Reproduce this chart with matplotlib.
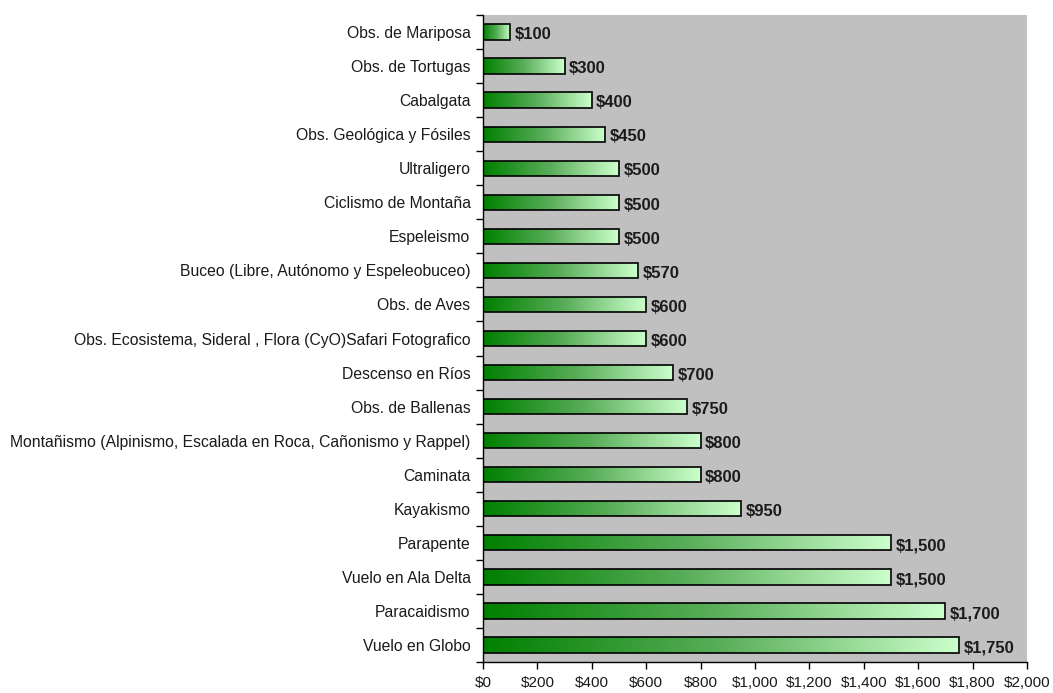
import numpy as np
import matplotlib
matplotlib.use("Agg")
import matplotlib.pyplot as plt
from matplotlib.colors import LinearSegmentedColormap
from matplotlib.ticker import FixedLocator, FuncFormatter

categories = [
    "Obs. de Mariposa",
    "Obs. de Tortugas",
    "Cabalgata",
    "Obs. Geológica y Fósiles",
    "Ultraligero",
    "Ciclismo de Montaña",
    "Espeleismo",
    "Buceo (Libre, Autónomo y Espeleobuceo)",
    "Obs. de Aves",
    "Obs. Ecosistema, Sideral , Flora (CyO)Safari Fotografico",
    "Descenso en Ríos",
    "Obs. de Ballenas",
    "Montañismo (Alpinismo, Escalada en Roca, Cañonismo y Rappel)",
    "Caminata",
    "Kayakismo",
    "Parapente",
    "Vuelo en Ala Delta",
    "Paracaidismo",
    "Vuelo en Globo",
]
values = [100, 300, 400, 450, 500, 500, 500, 570, 600, 600, 700, 750, 800, 800, 950, 1500, 1500, 1700, 1750]
xticks = [0, 200, 400, 600, 800, 1000, 1200, 1400, 1600, 1800, 2000]

plt.rcParams['font.family'] = ['Liberation Sans', 'DejaVu Sans']

fig = plt.figure(figsize=(10.53, 6.93), dpi=100)
ax = fig.add_axes([483/1053, 1 - 662/693, (1027 - 483)/1053, (662 - 15)/693])
ax.set_facecolor('#c0c0c0')

cmap = LinearSegmentedColormap.from_list('g', ['#008000', '#5aae5a', '#ccffcc'])
grad = np.linspace(0, 1, 256).reshape(1, -1)
n = len(categories)
ypos = np.arange(n)
h = 0.45
bars = ax.barh(ypos, values, height=h, facecolor='none', edgecolor='black', linewidth=1.2, zorder=3)
for b, v, y in zip(bars, values, ypos):
    im = ax.imshow(grad, cmap=cmap, aspect='auto', extent=(0, v, y + h/2, y - h/2), zorder=2, interpolation='bilinear')
    im.set_clip_path(b)
    ax.text(v + 16, y + 0.08, f"${v:,}", va='center', ha='left', fontsize=12, fontweight='bold', color='#1a1a1a')

ax.set_xlim(0, 2000)
ax.set_ylim(n - 0.5, -0.5)
ax.set_yticks(ypos)
ax.set_yticklabels(categories, fontsize=11.3, color='#1a1a1a')
ax.yaxis.set_minor_locator(FixedLocator(np.arange(-0.5, n, 1.0)))
ax.tick_params(axis='y', which='major', length=0, pad=9)
ax.tick_params(axis='y', which='minor', length=5, width=1, direction='out')
ax.xaxis.set_major_locator(FixedLocator(xticks))
ax.xaxis.set_major_formatter(FuncFormatter(lambda x, p: f"${int(x):,}"))
ax.tick_params(axis='x', length=5, width=1, direction='out', labelsize=11, pad=5, labelcolor='#1a1a1a')
for s in ['top', 'right']:
    ax.spines[s].set_visible(False)
for s in ['left', 'bottom']:
    ax.spines[s].set_linewidth(1)
ax.set_axisbelow(False)

fig.savefig('out.png', dpi=100)
